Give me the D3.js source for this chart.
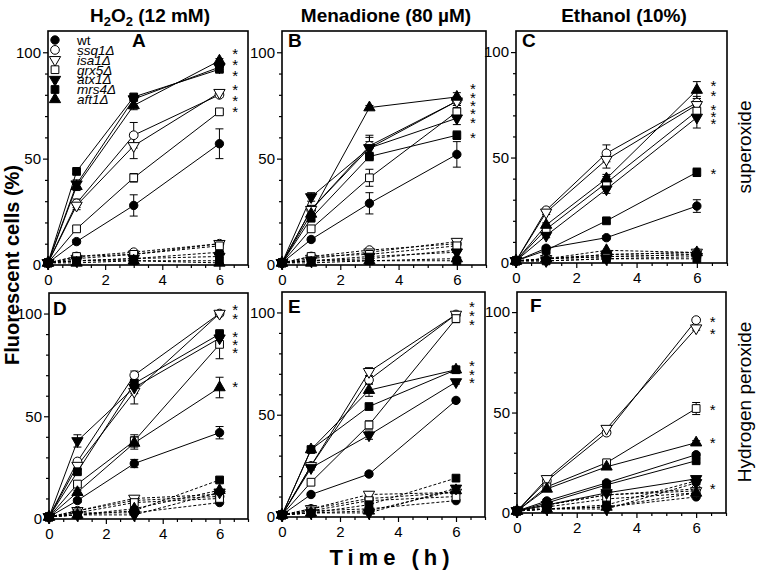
<!DOCTYPE html>
<html><head><meta charset="utf-8">
<script src="https://cdn.jsdelivr.net/npm/d3@7"></script>
<style>
body{margin:0;background:#fff;}
svg{display:block;font-family:"Liberation Sans",Arial,sans-serif;}
</style></head>
<body>
<svg id="chart" width="757" height="575"></svg>
<script>
// ---------- DATA ----------
const times = [0, 1, 3, 6];
const strains = ["wt", "ssq1Δ", "isa1Δ", "grx5Δ", "atx1Δ", "mrs4Δ", "aft1Δ"];
const columnTitles = ["H2O2 (12 mM)", "Menadione (80 µM)", "Ethanol (10%)"];
const rowLabels = ["superoxide", "Hydrogen peroxide"];
const panelLetters = ["A", "B", "C", "D", "E", "F"];
const xTicks = [0, 2, 4, 6];
const yTicks = [0, 50, 100];

// treated (solid lines), per panel, per strain: values at t = 0,1,3,6
const treatedA = [[1,11,28,57],[1,29,61,80],[1,28,56,81],[1,17,41,72],[1,38,78,93],[1,44,79,92],[1,37,75,96]];
const treatedB = [[1,12,29,52],[1,26,56,77],[1,26,55,77],[1,17,41,72],[1,32,55,69],[1,22,51,61],[1,24,74,79]];
const treatedC = [[1,7,12,27],[1,25,52,76],[1,24,49,75],[1,16,38,72],[1,13,35,69],[1,6,20,43],[1,18,40,82]];
const treatedD = [[1,9,27,42],[1,28,70,100],[1,26,62,100],[1,17,38,85],[1,38,64,88],[1,23,66,90],[1,13,37,64]];
const treatedE = [[1,11,21,57],[1,25,67,99],[1,25,71,99],[1,17,45,97],[1,24,40,66],[1,33,54,72],[1,33,62,72]];
const treatedF = [[1,6,15,29],[1,16,40,96],[1,17,42,92],[1,13,25,52],[1,4,10,17],[1,5,14,26],[1,12,23,35]];

// error (half-length) for treated series
const errA = [[0,1,5,7],[0,2,6,1],[0,2,6,1],[0,1,2,1],[0,2,1,1],[0,1,1,1],[0,2,2,1]];
const errB = [[0,1,5,6],[0,2,5,2],[0,2,5,2],[0,1,4,2],[0,2,3,3],[0,1,2,2],[0,1,1,2]];
const errC = [[0,1,1,3],[0,1,4,3],[0,1,4,3],[0,1,3,3],[0,1,2,5],[0,1,1,2],[0,1,2,4]];
const errD = [[0,1,2,3],[0,1,2,1],[0,2,6,1],[0,1,3,7],[0,3,3,3],[0,1,2,2],[0,1,3,5]];
const errE = [[0,1,1,1],[0,1,2,1],[0,1,2,1],[0,1,2,2],[0,1,2,1],[0,1,1,1],[0,1,3,1]];
const errF = [[0,1,1,1],[0,1,1,1],[0,1,1,1],[0,1,1,3],[0,1,1,1],[0,1,1,1],[0,1,1,1]];

// untreated controls (dashed lines)
const controlA = [[1,2,3,6],[1,4,6,10],[1,3,5,10],[1,4,5,9],[1,2,3,4],[1,2,2,2],[1,1,2,1]];
const controlB = [[1,2,3,7],[1,4,7,10],[1,3,6,11],[1,4,5,9],[1,2,4,6],[1,2,2,2],[1,1,2,3]];
const controlC = [[1,2,3,4],[1,2,4,5],[1,2,4,5],[1,2,3,4],[1,1,2,3],[1,1,2,2],[1,2,6,5]];
const controlD = [[1,3,3,8],[1,4,9,11],[1,4,10,12],[1,3,8,10],[1,2,2,13],[1,2,4,19],[1,2,5,14]];
const controlE = [[1,3,4,8],[1,4,9,12],[1,4,11,12],[1,3,8,10],[1,2,2,14],[1,2,6,19],[1,2,3,13]];
const controlF = [[1,2,3,8],[1,4,9,12],[1,4,9,11],[1,3,7,10],[1,2,2,15],[1,2,4,16],[1,2,3,10]];

// significance stars (y positions in data units)
const starsA = [101, 95.8, 90.8, 84, 79, 73.6];
const starsB = [84.8, 80.6, 76.7, 72.8, 68.5, 61.8];
const starsC = [85.8, 81.1, 74.3, 70.9, 67.7, 44.3];
const starsD = [103.5, 99.2, 90.6, 86.6, 82.7, 66.1];
const starsE = [104.4, 100, 95.9, 75.6, 71.5, 67.3];
const starsF = [97.2, 91.3, 53.2, 36.7, 13.7];

// ---------- LAYOUT ----------
const treated = [treatedA, treatedB, treatedC, treatedD, treatedE, treatedF];
const errs = [errA, errB, errC, errD, errE, errF];
const controls = [controlA, controlB, controlC, controlD, controlE, controlF];
const stars = [starsA, starsB, starsC, starsD, starsE, starsF];
const frames = [
  {l:48, r:248, t:31, b:265},
  {l:282, r:486, t:31, b:265},
  {l:516, r:727, t:31, b:263},
  {l:49, r:248, t:293, b:519},
  {l:282, r:485, t:292, b:517},
  {l:517, r:726, t:292, b:513}
];
const letterPos = [[132,47],[288,47],[522,47],[53,315],[288,313],[530,312]];
// marker style: [shape, filled, rotate, size]
const markers = [
  [d3.symbolCircle, true, 0, 55],
  [d3.symbolCircle, false, 0, 60],
  [d3.symbolTriangle, false, 180, 55],
  [d3.symbolSquare, false, 0, 60],
  [d3.symbolTriangle, true, 180, 55],
  [d3.symbolSquare, true, 0, 60],
  [d3.symbolTriangle, true, 0, 55]
];

const svg = d3.select("#chart");
const FONT = '"Liberation Sans", Arial, sans-serif';

function drawMarker(g, idx, cx, cy) {
  const m = markers[idx];
  g.append("path")
    .attr("d", d3.symbol().type(m[0]).size(m[3])())
    .attr("transform", `translate(${cx},${cy}) rotate(${m[2]})`)
    .attr("fill", m[1] ? "#000" : "#fff")
    .attr("stroke", "#000")
    .attr("stroke-width", 1);
}

frames.forEach((f, pi) => {
  const x = d3.scaleLinear().domain([0, 7]).range([f.l, f.r]);
  const y = d3.scaleLinear().domain([0, 110]).range([f.b, f.t]);
  const g = svg.append("g");

  // axes
  const xMinor = d3.range(0, 7.01, 0.5).filter(v => !xTicks.includes(v));
  const yMinor = d3.range(10, 101, 10).filter(v => !yTicks.includes(v));
  g.append("g").attr("transform", `translate(0,${f.b})`)
    .call(d3.axisBottom(x).tickValues(xMinor).tickSize(3).tickFormat(""))
    .call(a => a.select(".domain").remove())
    .call(a => a.selectAll("line").attr("stroke-width", 1.2));
  g.append("g").attr("transform", `translate(0,${f.b})`)
    .call(d3.axisBottom(x).tickValues(xTicks).tickSize(5).tickPadding(4).tickFormat(d3.format("d")))
    .call(a => a.select(".domain").remove())
    .call(a => a.selectAll("line").attr("stroke-width", 1.2))
    .call(a => a.selectAll("text").attr("font-size", 15).attr("font-family", FONT).attr("fill", "#000"));
  g.append("g").attr("transform", `translate(${f.l},0)`)
    .call(d3.axisLeft(y).tickValues(yMinor).tickSize(3).tickFormat(""))
    .call(a => a.select(".domain").remove())
    .call(a => a.selectAll("line").attr("stroke-width", 1.2));
  g.append("g").attr("transform", `translate(${f.l},0)`)
    .call(d3.axisLeft(y).tickValues(yTicks).tickSize(5).tickPadding(2).tickFormat(d3.format("d")))
    .call(a => a.select(".domain").remove())
    .call(a => a.selectAll("line").attr("stroke-width", 1.2))
    .call(a => a.selectAll("text").attr("font-size", 15).attr("font-family", FONT).attr("fill", "#000"));

  const line = d3.line().x((d, i) => x(times[i])).y(d => y(d));

  // controls (dashed)
  controls[pi].forEach((vals) => {
    g.append("path").attr("d", line(vals)).attr("fill", "none")
      .attr("stroke", "#000").attr("stroke-width", 1).attr("stroke-dasharray", "3,2");
  });
  controls[pi].forEach((vals, si) => {
    vals.forEach((v, i) => drawMarker(g, si, x(times[i]), y(v)));
  });

  // treated (solid)
  treated[pi].forEach((vals) => {
    g.append("path").attr("d", line(vals)).attr("fill", "none")
      .attr("stroke", "#000").attr("stroke-width", 1);
  });
  treated[pi].forEach((vals, si) => {
    vals.forEach((v, i) => {
      const e = errs[pi][si][i];
      if (e > 0) {
        const cx = x(times[i]);
        g.append("path")
          .attr("d", `M${cx},${y(v - e)}V${y(v + e)}M${cx - 4},${y(v - e)}H${cx + 4}M${cx - 4},${y(v + e)}H${cx + 4}`)
          .attr("stroke", "#000").attr("stroke-width", 1).attr("fill", "none");
      }
    });
  });
  treated[pi].forEach((vals, si) => {
    vals.forEach((v, i) => drawMarker(g, si, x(times[i]), y(v)));
  });

  // stars
  stars[pi].forEach(s => {
    g.append("text").attr("x", x(6.55)).attr("y", y(s)).attr("dy", "0.6em")
      .attr("text-anchor", "middle").attr("font-size", 15).attr("font-family", FONT)
      .attr("fill", "#000").text("*");
  });

  // frame
  g.append("rect").attr("x", f.l).attr("y", f.t).attr("width", f.r - f.l).attr("height", f.b - f.t)
    .attr("fill", "none").attr("stroke", "#000").attr("stroke-width", 1.6);

  // panel letter
  g.append("text").attr("x", letterPos[pi][0]).attr("y", letterPos[pi][1])
    .attr("font-size", 19).attr("font-weight", "bold").attr("font-family", FONT).text(panelLetters[pi]);
});

// legend in panel A
const legG = svg.append("g");
strains.forEach((s, i) => {
  const yy = 40 + i * 9.9;
  drawMarker(legG, i, 55, yy);
  legG.append("text").attr("x", 77).attr("y", yy + 4.8)
    .attr("font-size", 13.5).attr("font-family", FONT)
    .attr("font-style", i === 0 ? "normal" : "italic")
    .text(s);
});

// column titles
const titleX = [150, 386, 624];
const t0 = svg.append("text").attr("x", titleX[0]).attr("y", 22).attr("text-anchor", "middle")
  .attr("font-size", 19).attr("font-weight", "bold").attr("font-family", FONT);
t0.append("tspan").text("H");
t0.append("tspan").attr("font-size", 13).attr("dy", 4).text("2");
t0.append("tspan").attr("dy", -4).text("O");
t0.append("tspan").attr("font-size", 13).attr("dy", 4).text("2");
t0.append("tspan").attr("dy", -4).text(" (12 mM)");
[1, 2].forEach(i => {
  svg.append("text").attr("x", titleX[i]).attr("y", 22).attr("text-anchor", "middle")
    .attr("font-size", 19).attr("font-weight", "bold").attr("font-family", FONT).text(columnTitles[i]);
});

// right row labels
const rowY = [147, 402];
rowLabels.forEach((t, i) => {
  svg.append("text").attr("transform", `translate(751,${rowY[i]}) rotate(-90)`)
    .attr("text-anchor", "middle").attr("font-size", 19).attr("font-family", FONT).text(t);
});

// y axis title
svg.append("text").attr("transform", "translate(19,265) rotate(-90)")
  .attr("text-anchor", "middle").attr("font-size", 20).attr("font-weight", "bold")
  .attr("font-family", FONT).text("Fluorescent cells (%)");

// x axis title
svg.append("text").attr("x", 392).attr("y", 565).attr("text-anchor", "middle")
  .attr("font-size", 22).attr("font-weight", "bold").attr("letter-spacing", 5)
  .attr("font-family", FONT).text("Time (h)");
</script>
</body></html>
